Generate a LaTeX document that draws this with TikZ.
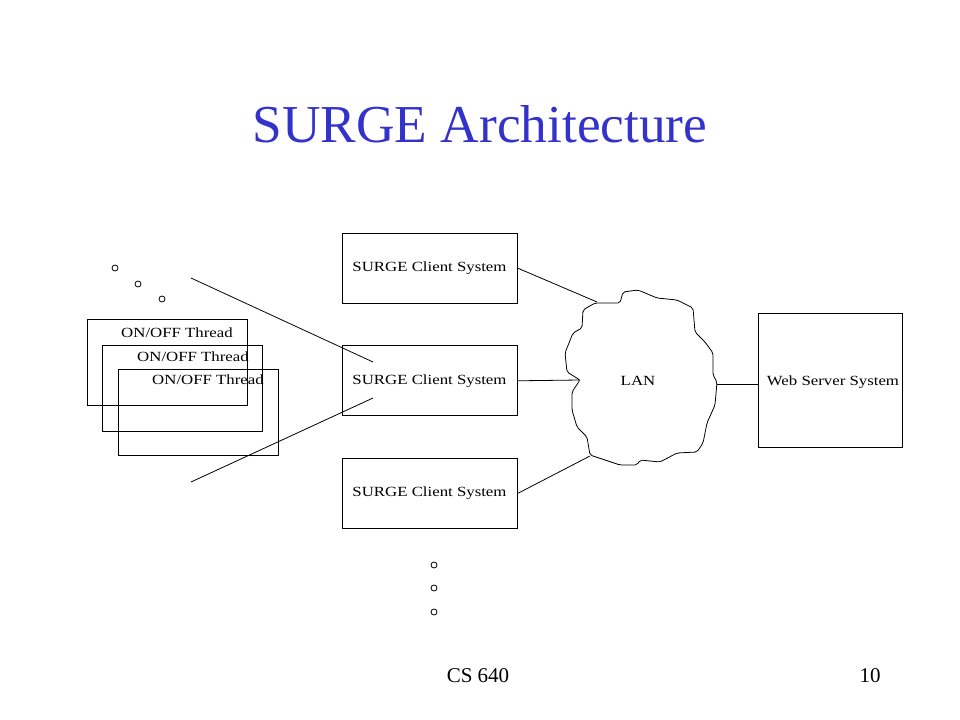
\documentclass[tikz,border=0pt]{standalone}
\usepackage{fontspec}
\setmainfont{Liberation Serif}
\newfontfamily\boxfont[FakeStretch=1.2]{Liberation Serif}
\usetikzlibrary{positioning}
\definecolor{titleblue}{RGB}{51,51,204}

\begin{document}
\begin{tikzpicture}
  [x=0.75pt,y=-0.75pt,line width=0.6pt,
   clientN/.style={rectangle,draw,minimum width=131.25pt,minimum height=52.5pt,
     font=\boxfont\fontsize{10.5}{12}\selectfont},
   threadN/.style={rectangle,draw,minimum width=120pt,minimum height=64.5pt},
   serverN/.style={rectangle,draw,minimum width=108pt,minimum height=100.5pt},
   lbl/.style={inner sep=0pt,anchor=base,font=\boxfont\fontsize{10.5}{12}\selectfont},
   dotN/.style={circle,draw,inner sep=0pt,minimum size=4.5pt},
   node distance=31.5pt]

  \useasboundingbox (0,0) rectangle (960,720);

  \node[anchor=base,text=titleblue,font=\fontsize{40}{44}\selectfont] (title) at (480,143) {SURGE Architecture};

  \node[clientN] (cl1) at (429.5,268) {SURGE Client System};
  \node[clientN] (cl2) [below=of cl1] {SURGE Client System};
  \node[clientN] (cl3) [below=of cl2] {SURGE Client System};

  \node[threadN] (thr1) at (167.5,362) {};
  \node[threadN] (thr2) at (182,388.5) {};
  \node[threadN] (thr3) at (198,412) {};
  \node[lbl] (thr1t) at (177,337) {ON/OFF Thread};
  \node[lbl] (thr2t) at (193,361) {ON/OFF Thread};
  \node[lbl] (thr3t) at (208,384) {ON/OFF Thread};

  \node[dotN] (d1) at (115,268) {};
  \node[dotN] (d2) at (138,284) {};
  \node[dotN] (d3) at (162,299) {};
  \node[dotN] (d4) at (434,565) {};
  \node[dotN] (d5) at (434,588) {};
  \node[dotN] (d6) at (434,612) {};

  \draw[rounded corners=1.5pt] (595,303) -- (620,303) -- (623,292) -- (638,290) -- (657,298)
    -- (677,300) -- (693,308) -- (695,332) -- (705,342) -- (713,353) -- (713,375)
    -- (717,382) -- (715,405) -- (707,423) -- (703,443) -- (697,452) -- (677,453)
    -- (660,462) -- (640,460) -- (637,465) -- (620,465) -- (590,455) -- (587,437)
    -- (577,427) -- (572,410) -- (572,392) -- (580,380) -- (567,372) -- (565,353)
    -- (573,333) -- (582,328) -- (583,310) -- cycle;
  \node[lbl] (lan) at (638,385) {LAN};
  \coordinate (lanN) at (597,302);
  \coordinate (lanW) at (580,380);
  \coordinate (lanS) at (590,456);
  \coordinate (lanE) at (717,384);

  \node[serverN] (web) at (830,380) {};
  \node[lbl] (webt) at (833,385) {Web Server System};

  \coordinate (tA) at (191,278);
  \coordinate (tB) at (373,362);
  \coordinate (tC) at (191,482);
  \coordinate (tD) at (373,398);

  \draw (tA) -- (tB);
  \draw (tC) -- (tD);
  \draw (cl1.east) -- (lanN);
  \draw (cl2.east) -- (lanW);
  \draw (cl3.east) -- (lanS);
  \draw (lanE) -- (lanE -| web.west);

  \node[anchor=base,font=\fontsize{15.75}{18}\selectfont] (foot) at (478,682) {CS 640};
  \node[anchor=base,font=\fontsize{15.75}{18}\selectfont] (page) at (870,682) {10};
\end{tikzpicture}
\end{document}
